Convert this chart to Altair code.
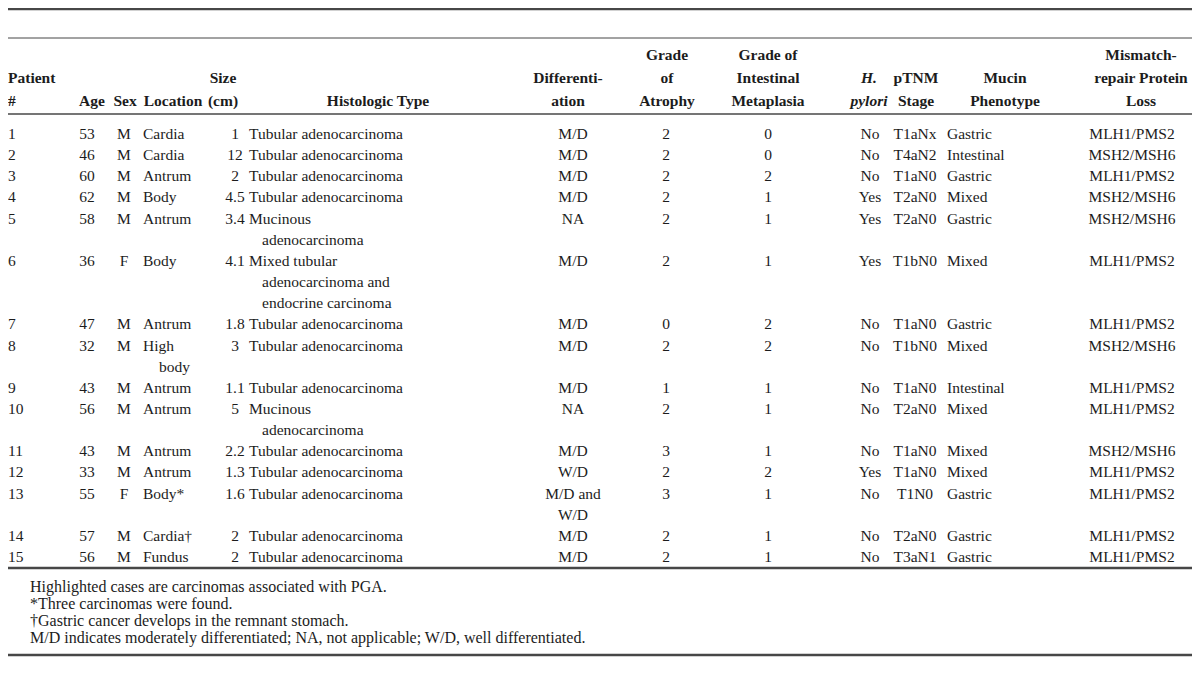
import altair as alt
import pandas as pd

# ---------------- data ----------------
patient = [str(i) for i in range(1, 16)]
age = [53, 46, 60, 62, 58, 36, 47, 32, 43, 56, 43, 33, 55, 57, 56]
sex = ["M", "M", "M", "M", "M", "F", "M", "M", "M", "M", "M", "M", "F", "M", "M"]
location = ["Cardia", "Cardia", "Antrum", "Body", "Antrum", "Body", "Antrum", "High\nbody",
            "Antrum", "Antrum", "Antrum", "Antrum", "Body*", "Cardia\u2020", "Fundus"]
size_cm = ["1", "12", "2", "4.5", "3.4", "4.1", "1.8", "3", "1.1", "5", "2.2", "1.3", "1.6", "2", "2"]
histology = ["Tubular adenocarcinoma", "Tubular adenocarcinoma", "Tubular adenocarcinoma",
             "Tubular adenocarcinoma", "Mucinous\nadenocarcinoma",
             "Mixed tubular\nadenocarcinoma and\nendocrine carcinoma",
             "Tubular adenocarcinoma", "Tubular adenocarcinoma", "Tubular adenocarcinoma",
             "Mucinous\nadenocarcinoma", "Tubular adenocarcinoma", "Tubular adenocarcinoma",
             "Tubular adenocarcinoma", "Tubular adenocarcinoma", "Tubular adenocarcinoma"]
differentiation = ["M/D", "M/D", "M/D", "M/D", "NA", "M/D", "M/D", "M/D", "M/D", "NA",
                   "M/D", "W/D", "M/D and\nW/D", "M/D", "M/D"]
atrophy = [2, 2, 2, 2, 2, 2, 0, 2, 1, 2, 3, 2, 3, 2, 2]
metaplasia = [0, 0, 2, 1, 1, 1, 2, 2, 1, 1, 1, 2, 1, 1, 1]
hpylori = ["No", "No", "No", "Yes", "Yes", "Yes", "No", "No", "No", "No", "No", "Yes", "No", "No", "No"]
ptnm = ["T1aNx", "T4aN2", "T1aN0", "T2aN0", "T2aN0", "T1bN0", "T1aN0", "T1bN0", "T1aN0",
        "T2aN0", "T1aN0", "T1aN0", "T1N0", "T2aN0", "T3aN1"]
mucin = ["Gastric", "Intestinal", "Gastric", "Mixed", "Gastric", "Mixed", "Gastric", "Mixed",
         "Intestinal", "Mixed", "Mixed", "Mixed", "Gastric", "Gastric", "Gastric"]
mmr = ["MLH1/PMS2", "MSH2/MSH6", "MLH1/PMS2", "MSH2/MSH6", "MSH2/MSH6", "MLH1/PMS2",
       "MLH1/PMS2", "MSH2/MSH6", "MLH1/PMS2", "MLH1/PMS2", "MSH2/MSH6", "MLH1/PMS2",
       "MLH1/PMS2", "MLH1/PMS2", "MLH1/PMS2"]

headers = ["Patient\n#", "Age", "Sex", "Location", "Size\n(cm)", "Histologic Type",
           "Differenti-\nation", "Grade\nof\nAtrophy", "Grade of\nIntestinal\nMetaplasia",
           "H.\npylori", "pTNM\nStage", "Mucin\nPhenotype", "Mismatch-\nrepair Protein\nLoss"]

footnotes = ["Highlighted cases are carcinomas associated with PGA.",
             "*Three carcinomas were found.",
             "\u2020Gastric cancer develops in the remnant stomach.",
             "M/D indicates moderately differentiated; NA, not applicable; W/D, well differentiated."]

# ---------------- layout ----------------
W, H = 1184, 658
FONT = "Liberation Serif"
BODY_SIZE = 15.5
HEAD_SIZE = 15.5
NOTE_SIZE = 16
TEXT_COLOR = "#1c1c1c"
RULE_COLOR = "#474747"

ROW_TOP = 134.0
LINE_H = 21.15
HEAD_Y = [55.0, 78.0, 101.0]

# (values, data x, data align, continuation indent, header x, header align, italic header)
columns = [
    (patient, 8, "left", 0, 8, "left", False),
    (age, 87, "center", 0, 92, "center", False),
    (sex, 124, "center", 0, 125, "center", False),
    (location, 143, "left", 16, 173, "center", False),
    (size_cm, 235, "center", 0, 223, "center", False),
    (histology, 249, "left", 13, 378, "center", False),
    (differentiation, 573, "center", 0, 568, "center", False),
    (atrophy, 666, "center", 0, 667, "center", False),
    (metaplasia, 768, "center", 0, 768, "center", False),
    (hpylori, 870, "center", 0, 869, "center", True),
    (ptnm, 915, "center", 0, 916, "center", False),
    (mucin, 947, "left", 0, 1005, "center", False),
    (mmr, 1132, "center", 0, 1141, "center", False),
]

rules = [(9, 2.5), (38, 1.0), (114, 1.5), (568, 2.5), (655, 2.5)]
NOTE_X = 30
NOTE_Y = [587, 604, 621, 638]

# ---------------- build tables ----------------
cells = []
line = 0
for r in range(len(patient)):
    nlines = 1
    for vals, x, align, indent, hx, halign, ital in columns:
        parts = str(vals[r]).split("\n")
        nlines = max(nlines, len(parts))
        for k, p in enumerate(parts):
            cells.append({"text": p, "x": x + (indent if k > 0 else 0),
                          "y": ROW_TOP + LINE_H * (line + k), "al": align})
    line += nlines
body = pd.DataFrame(cells)

hcells = []
for (vals, x, align, indent, hx, halign, ital), htxt in zip(columns, headers):
    parts = htxt.split("\n")
    start = 3 - len(parts)
    for k, p in enumerate(parts):
        hcells.append({"text": p, "x": hx, "y": HEAD_Y[start + k], "al": halign,
                       "ital": ital})
head = pd.DataFrame(hcells)

notes = pd.DataFrame({"text": footnotes, "x": [NOTE_X] * len(footnotes), "y": NOTE_Y})
rule_df = pd.DataFrame({"y": [r[0] for r in rules], "sw": [r[1] for r in rules]})

xs = alt.Scale(domain=[8, 8 + W], range=[0, W])
ys = alt.Scale(domain=[8, 8 + H], range=[0, H])
X = alt.X("x:Q", scale=xs, axis=None)
Y = alt.Y("y:Q", scale=ys, axis=None)


def text_layer(df, align, size, weight="normal", style="normal"):
    return alt.Chart(df).mark_text(
        align=align, baseline="middle", font=FONT, fontSize=size,
        fontWeight=weight, fontStyle=style, color=TEXT_COLOR
    ).encode(x=X, y=Y, text="text:N")


layers = [
    alt.Chart(rule_df).mark_rule(color=RULE_COLOR).encode(
        x=alt.value(0), x2=alt.value(W), y=alt.Y("y:Q", scale=ys, axis=None),
        strokeWidth=alt.StrokeWidth("sw:Q", scale=None)),
    text_layer(body[body["al"] == "left"], "left", BODY_SIZE),
    text_layer(body[body["al"] == "center"], "center", BODY_SIZE),
    text_layer(head[(head["al"] == "left") & (~head["ital"])], "left", HEAD_SIZE, "bold"),
    text_layer(head[(head["al"] == "center") & (~head["ital"])], "center", HEAD_SIZE, "bold"),
    text_layer(head[head["ital"]], "center", HEAD_SIZE, "bold", "italic"),
    text_layer(notes, "left", NOTE_SIZE),
]

chart = alt.layer(*layers).properties(width=W, height=H).configure(
    background="white", padding=0, autosize=alt.AutoSizeParams(type="none")
).configure_view(stroke=None)

chart.save("out.html", embed_options={"renderer": "svg", "actions": False})
